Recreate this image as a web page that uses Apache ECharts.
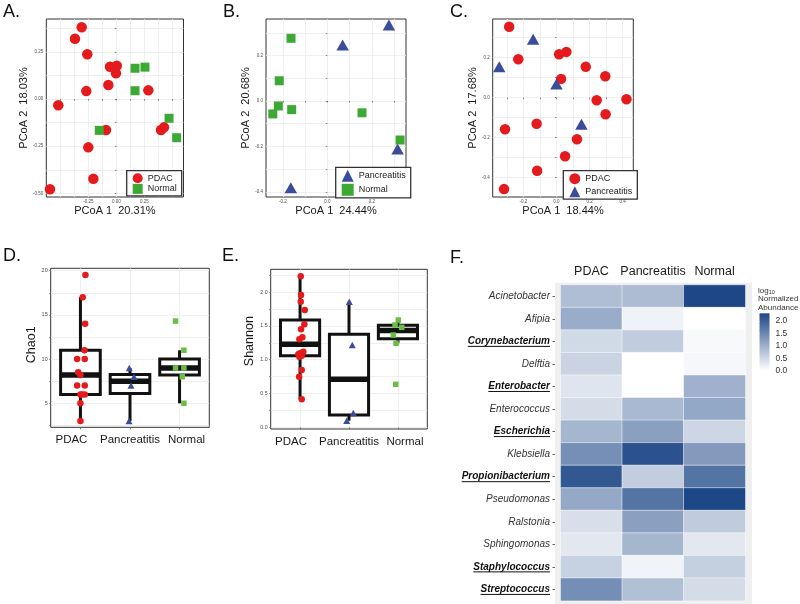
<!DOCTYPE html>
<html><head><meta charset="utf-8">
<script src="https://cdn.jsdelivr.net/npm/echarts@6/dist/echarts.min.js"></script>
<style>html,body{margin:0;padding:0;background:#fff}#c{width:800px;height:604px}</style>
</head><body><div id="c"></div>
<script>
// ---------------- DATA ----------------
// Panel A: PCoA, PDAC vs Normal  [PCoA1, PCoA2]
const pcoaA_PDAC = [[-0.309,0.380],[-0.369,0.319],[-0.259,0.237],[-0.056,0.171],[0.004,0.176],[-0.003,0.136],[-0.071,0.074],[-0.268,0.042],[0.286,0.046],[-0.518,-0.033],[-0.092,-0.164],[0.399,-0.164],[0.426,-0.150],[-0.250,-0.256],[-0.205,-0.422],[-0.592,-0.478]];
const pcoaA_Normal = [[0.167,0.163],[0.256,0.169],[0.167,0.044],[0.471,-0.102],[0.539,-0.205],[-0.152,-0.166]];
const pcoaA_xTicks = [-0.25,0,0.25];
const pcoaA_yTicks = [-0.5,-0.25,0,0.25];
const pcoaA_xGrid = [-0.5,-0.375,-0.25,-0.125,0,0.125,0.25,0.375,0.5];
const pcoaA_yGrid = [-0.5,-0.375,-0.25,-0.125,0,0.125,0.25,0.375];
// Panel B: Pancreatitis vs Normal
const pcoaB_Panc = [[0.277,0.335],[0.069,0.247],[0.316,-0.211],[-0.164,-0.382]];
const pcoaB_Normal = [[-0.163,0.276],[-0.216,0.089],[-0.220,-0.022],[-0.245,-0.057],[-0.160,-0.038],[0.156,-0.052],[0.327,-0.172]];
const pcoaB_xTicks = [-0.2,0,0.2];
const pcoaB_yTicks = [-0.4,-0.2,0,0.2];
const pcoaB_xGrid = [-0.2,-0.1,0,0.1,0.2,0.3];
const pcoaB_yGrid = [-0.4,-0.3,-0.2,-0.1,0,0.1,0.2,0.3];
// Panel C: PDAC vs Pancreatitis
const pcoaC_PDAC = [[-0.286,0.355],[-0.231,0.192],[0.016,0.217],[0.060,0.229],[0.177,0.155],[0.295,0.107],[0.028,0.094],[0.243,-0.013],[0.423,-0.008],[0.297,-0.083],[-0.120,-0.130],[-0.311,-0.158],[0.124,-0.208],[0.052,-0.293],[-0.117,-0.365],[-0.317,-0.457]];
const pcoaC_Panc = [[-0.346,0.155],[-0.141,0.292],[0.000,0.069],[0.151,-0.133]];
const pcoaC_xTicks = [-0.2,0,0.2,0.4];
const pcoaC_yTicks = [-0.4,-0.2,0,0.2];
const pcoaC_xGrid = [-0.3,-0.2,-0.1,0,0.1,0.2,0.3,0.4];
const pcoaC_yGrid = [-0.4,-0.3,-0.2,-0.1,0,0.1,0.2,0.3];
// Panels D/E groups
const groups = ['PDAC','Pancreatitis','Normal'];
const groupTicks = [1,2,3];
// Panel D: Chao1  [jittered group position, value]
const chao1_PDAC = [[1.101,19.5],[1.046,17],[1.095,14],[1.081,11],[0.933,10],[1.087,10],[0.954,8.5],[1.0,8.2],[0.933,7],[1.087,7],[1.0,6],[1.087,6],[1.03,6],[1.0,5],[1.0,3]];
const chao1_Panc = [[1.986,9],[2.081,8],[2.02,7],[1.98,3]];
const chao1_Normal = [[3.087,11],[2.919,9],[3.087,9],[3.054,8],[3.087,5],[2.919,14.3]];
// box stats: [group, lower whisker, Q1, median, Q3, upper whisker]
const chao1_Box = [[1,3,6,8.2,11,17],[2,3,6.1,7.5,8.25,9],[3,5,8.2,9,10,11]];
const chao1_yTicks = [5,10,15,20];
const chao1_yGrid = [2.5,5,7.5,10,12.5,15,17.5,20];
// Panel E: Shannon
const shannon_PDAC = [[1.014,2.233],[1.02,1.957],[1.014,1.858],[1.096,1.735],[1.088,1.523],[1.02,1.449],[1.047,1.331],[0.986,1.302],[1.067,1.118],[1.0,1.095],[0.965,1.080],[1.034,1.059],[0.986,1.045],[1.034,0.848],[0.98,0.749],[1.034,0.414]];
const shannon_Panc = [[2.006,1.858],[2.067,1.217],[2.088,0.211],[1.953,0.098]];
const shannon_Normal = [[3.008,1.587],[2.941,1.513],[3.078,1.479],[2.906,1.365],[2.961,1.243],[2.955,0.636]];
const shannon_Box = [[1,0.414,1.06,1.228,1.587,2.233],[2,0.098,0.183,0.71,1.377,1.858],[3,1.243,1.31,1.43,1.51,1.587]];
const shannon_yTicks = [0,0.5,1,1.5,2];
const shannon_yGrid = [0,0.25,0.5,0.75,1,1.25,1.5,1.75,2,2.25];
// Panel F: heatmap log10 normalized abundance
const genera = ['Acinetobacter','Afipia','Corynebacterium','Delftia','Enterobacter','Enterococcus','Escherichia','Klebsiella','Propionibacterium','Pseudomonas','Ralstonia','Sphingomonas','Staphylococcus','Streptococcus'];
const boldGenera = ['Corynebacterium','Enterobacter','Escherichia','Propionibacterium','Staphylococcus','Streptococcus'];
const abundPDAC   = [0.82,1.04,0.48,0.55,0.33,0.44,0.92,1.41,2.10,1.08,0.40,0.29,0.58,1.42];
const abundPanc   = [0.84,0.16,0.63,0.00,0.00,0.88,1.19,2.17,0.62,1.75,1.19,0.92,0.15,0.79];
const abundNormal = [2.31,0.00,0.08,0.10,0.98,1.10,0.51,1.27,1.75,2.31,0.64,0.29,0.60,0.44];
const colorbarTicks = [0,0.5,1,1.5,2];

// ---------------- CHART ----------------
const FONT = '"Liberation Sans", Arial, Helvetica, sans-serif';
const RED = '#E41A1C', BLUE = '#3B4C9B', GREEN = '#3DA935', GREEN2 = '#6ABD45';
const LOW = '#FFFFFF', HIGH = '#1D4787';
const chart = echarts.init(document.getElementById('c'), null, {renderer:'canvas', width:800, height:604});

function fmt(d){ return v => (Math.abs(v) < 1e-9 ? 0 : v).toFixed(d); }
const splitL = {show:true, lineStyle:{color:'#EBEBEB', width:0.8}};

function valAxis(grid, min, max, grid_vals, ticks, d, name, gap, fs, lblFs, lblMargin, namePad){
  return {gridIndex:grid, type:'value', min, max,
    name, nameLocation:'middle', nameGap:gap,
    nameTextStyle:{fontSize:fs, color:'#1a1a1a', fontFamily:FONT, padding:namePad || 0},
    axisLine:{show:false},
    axisTick:{show:true, length:1.5, customValues:grid_vals, lineStyle:{color:'#333', width:0.6}},
    axisLabel:{fontSize:lblFs, color:'#4D4D4D', margin:lblMargin, customValues:ticks, formatter:fmt(d), fontFamily:FONT},
    splitLine:splitL};
}
function groupAxis(grid){
  return {gridIndex:grid, type:'value', min:0.4, max:3.6,
    axisLine:{show:false},
    axisTick:{show:true, length:2, customValues:groupTicks, lineStyle:{color:'#333', width:0.6}},
    axisLabel:{margin:7, fontFamily:FONT, customValues:groupTicks,
      formatter: v => { const r = Math.round(v); return '{g'+(r-1)+'|'+groups[r-1]+'}'; },
      rich:{g0:{fontSize:11.5, color:'#1a1a1a', fontFamily:FONT, padding:[0,18,0,0]},
            g1:{fontSize:11.5, color:'#1a1a1a', fontFamily:FONT},
            g2:{fontSize:11.5, color:'#1a1a1a', fontFamily:FONT, padding:[0,0,0,14]}}},
    splitLine:splitL};
}
function boxRender(params, api){
  const x = api.value(0), lo = api.value(1), q1 = api.value(2), med = api.value(3), q3 = api.value(4), hi = api.value(5);
  const h = 0.4;
  const tl = api.coord([x-h, q3]), br = api.coord([x+h, q1]);
  const ml = api.coord([x-h, med]), mr = api.coord([x+h, med]);
  const pHi = api.coord([x, hi]), pQ3 = api.coord([x, q3]), pQ1 = api.coord([x, q1]), pLo = api.coord([x, lo]);
  const ls = {stroke:'#111', lineWidth:3};
  return {type:'group', children:[
    {type:'line', shape:{x1:pHi[0], y1:pHi[1], x2:pQ3[0], y2:pQ3[1]}, style:ls},
    {type:'line', shape:{x1:pQ1[0], y1:pQ1[1], x2:pLo[0], y2:pLo[1]}, style:ls},
    {type:'rect', shape:{x:tl[0], y:tl[1], width:br[0]-tl[0], height:br[1]-tl[1]}, style:{fill:'#fff', stroke:'#111', lineWidth:3}},
    {type:'line', shape:{x1:ml[0], y1:ml[1], x2:mr[0], y2:mr[1]}, style:{stroke:'#111', lineWidth:5.5}}
  ]};
}
function sc(name, xi, data, symbol, size, color){
  return {type:'scatter', name, xAxisIndex:xi, yAxisIndex:xi, data, symbol, symbolSize:size,
    itemStyle:{color, opacity:1}, z:3, silent:true, clip:false};
}
function mkLegend(names, left, top, iw, ih, gap){
  return {data:names, left, top, orient:'vertical', itemWidth:iw, itemHeight:ih, itemGap:gap,
    selectedMode:false, padding:[2.5,5,2,6], borderColor:'#333', borderWidth:1.3, backgroundColor:'#fff',
    textStyle:{fontSize:9, color:'#1a1a1a', fontFamily:FONT}};
}

const heatData = [];
genera.forEach((g, r) => { heatData.push([0, r, abundPDAC[r]], [1, r, abundPanc[r]], [2, r, abundNormal[r]]); });

const gridBase = {show:true, borderColor:'#333', borderWidth:1, backgroundColor:'#fff'};
const option = {
  animation:false,
  textStyle:{fontFamily:FONT},
  grid:[
    Object.assign({left:46.3, top:19, width:137.2, height:178}, gridBase),
    Object.assign({left:266, top:19, width:140, height:178}, gridBase),
    Object.assign({left:492.7, top:19, width:140.6, height:178}, gridBase),
    Object.assign({left:50.7, top:268.3, width:158.6, height:159}, gridBase),
    Object.assign({left:270.7, top:269.3, width:156.6, height:159.7}, gridBase),
    {left:560.7, top:285, width:184.6, height:315.7, show:false},
    {left:759.5, top:313.3, width:10, height:57.4, show:true, borderWidth:0,
     backgroundColor:{type:'linear', x:0, y:0, x2:0, y2:1, colorStops:[{offset:0, color:HIGH},{offset:1, color:LOW}]}}
  ],
  xAxis:[
    valAxis(0, -0.625, 0.6, pcoaA_xGrid, pcoaA_xTicks, 2, 'PCoA 1  20.31%', 5.5, 11, 4.5, 2.5),
    valAxis(1, -0.2755, 0.3537, pcoaB_xGrid, pcoaB_xTicks, 1, 'PCoA 1  24.44%', 5.5, 11, 4.5, 2.5),
    valAxis(2, -0.3855, 0.4645, pcoaC_xGrid, pcoaC_xTicks, 1, 'PCoA 1  18.44%', 5.5, 11, 4.5, 2.5),
    groupAxis(3),
    groupAxis(4),
    {gridIndex:5, type:'category', data:groups, position:'top', offset:2.3,
     axisLine:{show:false}, axisTick:{show:false},
     axisLabel:{interval:0, fontSize:12.5, color:'#1a1a1a', margin:5, fontFamily:FONT}, splitLine:{show:false}},
    {gridIndex:6, type:'value', show:false, min:0, max:1}
  ],
  yAxis:[
    valAxis(0, -0.519, 0.424, pcoaA_yGrid, pcoaA_yTicks, 2, 'PCoA 2  18.03%', 12.8, 11, 4.5, 3),
    valAxis(1, -0.4229, 0.361, pcoaB_yGrid, pcoaB_yTicks, 1, 'PCoA 2  20.68%', 10.5, 11, 4.5, 3),
    valAxis(2, -0.4965, 0.3935, pcoaC_yGrid, pcoaC_yTicks, 1, 'PCoA 2  17.68%', 12, 11, 4.5, 3),
    valAxis(3, 2.285, 20.27, chao1_yGrid, chao1_yTicks, 0, 'Chao1', 13, 12.5, 5.5, 3, [0,0,0,6]),
    valAxis(4, -0.025, 2.337, shannon_yGrid, shannon_yTicks, 1, 'Shannon', 12, 12.5, 5.3, 3, [0,0,0,16]),
    {gridIndex:5, type:'category', data:genera, inverse:true, offset:5.7,
     axisLine:{show:false},
     axisTick:{show:true, alignWithLabel:true, length:2.5, lineStyle:{color:'#333', width:0.8}},
     axisLabel:{interval:0, margin:5, formatter: v => boldGenera.includes(v) ? '{b|'+v+'}' : '{i|'+v+'}',
       rich:{i:{fontStyle:'italic', fontSize:10, color:'#333', fontFamily:FONT},
             b:{fontStyle:'italic', fontWeight:'bold', fontSize:10, color:'#111', fontFamily:FONT}}},
     splitLine:{show:false}},
    {gridIndex:6, type:'value', min:0, max:2.31, position:'right',
     axisLine:{show:false},
     axisTick:{show:true, inside:true, length:2, customValues:colorbarTicks, lineStyle:{color:'#fff', width:0.8}},
     axisLabel:{fontSize:8.5, color:'#333', margin:6, customValues:colorbarTicks, formatter:fmt(1), fontFamily:FONT},
     splitLine:{show:false}}
  ],
  legend:[
    mkLegend(['PDAC','Normal'], 126.7, 170.7, 10, 10, 0.7),
    mkLegend(['Pancreatitis','Normal'], 335.7, 167.3, 12, 12, 2),
    mkLegend(['PDAC','Pancreatitis'], 563.3, 170.7, 11, 11, 2)
  ],
  visualMap:[{type:'continuous', show:false, min:0, max:2.31, dimension:2, seriesIndex:14,
    inRange:{color:[LOW, HIGH]}}],
  series:[
    sc('PDAC', 0, pcoaA_PDAC, 'circle', 10.5, RED),          //0
    sc('Normal', 0, pcoaA_Normal, 'rect', 9, GREEN),         //1
    sc('Pancreatitis', 1, pcoaB_Panc, 'triangle', [12.5,11], BLUE), //2
    sc('Normal', 1, pcoaB_Normal, 'rect', 9, GREEN),         //3
    sc('PDAC', 2, pcoaC_PDAC, 'circle', 10.5, RED),          //4
    sc('Pancreatitis', 2, pcoaC_Panc, 'triangle', [12.5,11], BLUE), //5
    {type:'custom', name:'Chao1 box', xAxisIndex:3, yAxisIndex:3, data:chao1_Box, renderItem:boxRender, z:2, silent:true, encode:{x:0, y:[1,2,3,4,5]}}, //6
    sc('PDAC', 3, chao1_PDAC, 'circle', 6.5, RED),           //7
    sc('Pancreatitis', 3, chao1_Panc, 'triangle', [7,6.5], BLUE), //8
    sc('Normal', 3, chao1_Normal, 'rect', 5.5, GREEN2),      //9
    {type:'custom', name:'Shannon box', xAxisIndex:4, yAxisIndex:4, data:shannon_Box, renderItem:boxRender, z:2, silent:true, encode:{x:0, y:[1,2,3,4,5]}}, //10
    sc('PDAC', 4, shannon_PDAC, 'circle', 6.5, RED),         //11
    sc('Pancreatitis', 4, shannon_Panc, 'triangle', [7,6.5], BLUE), //12
    sc('Normal', 4, shannon_Normal, 'rect', 5.5, GREEN2),    //13
    {type:'heatmap', name:'Abundance', xAxisIndex:5, yAxisIndex:5, data:heatData,
     itemStyle:{borderColor:'#fff', borderWidth:0.5}, emphasis:{disabled:true}, silent:true}, //14
    {type:'scatter', name:'_cb', xAxisIndex:6, yAxisIndex:6, data:[], silent:true} //15
  ],
  graphic:[
    {id:'bgF', type:'rect', z:0, shape:{x:555, y:282.7, width:197, height:322}, style:{fill:'#EFEFEF'}},
    {id:'lA', type:'text', left:3, top:3, style:{text:'A.', fontSize:18, fill:'#111', fontFamily:FONT}},
    {id:'lB', type:'text', left:223, top:3, style:{text:'B.', fontSize:18, fill:'#111', fontFamily:FONT}},
    {id:'lC', type:'text', left:450, top:3, style:{text:'C.', fontSize:18, fill:'#111', fontFamily:FONT}},
    {id:'lD', type:'text', left:3, top:247, style:{text:'D.', fontSize:18, fill:'#111', fontFamily:FONT}},
    {id:'lE', type:'text', left:222, top:247, style:{text:'E.', fontSize:18, fill:'#111', fontFamily:FONT}},
    {id:'lF', type:'text', left:450, top:249, style:{text:'F.', fontSize:18, fill:'#111', fontFamily:FONT}},
    {id:'cbT', type:'text', left:758, top:285.5, style:{
      text:'{a|log}{s|10}\n{a|Normalized}\n{a|Abundance}',
      rich:{a:{fontSize:8, lineHeight:8.6, fill:'#333', fontFamily:FONT},
            s:{fontSize:5.5, lineHeight:8.6, fill:'#333', fontFamily:FONT, padding:[4,0,0,0]}}}}
  ]
};
chart.setOption(option);

// underline bold genus labels (positions taken from the heatmap axis)
const ctx = document.createElement('canvas').getContext('2d');
ctx.font = 'italic bold 10px "Liberation Sans"';
const heatLeft = 560.7, heatYOffset = 5.7, heatLabelMargin = 5;
const labelRight = heatLeft - heatYOffset - heatLabelMargin;
const ul = boldGenera.map((g, k) => {
  const y = chart.convertToPixel({xAxisIndex:5, yAxisIndex:5}, [0, genera.indexOf(g)])[1];
  const w = ctx.measureText(g).width;
  return {id:'ul'+k, type:'line', shape:{x1:labelRight - w, y1:y + 5, x2:labelRight, y2:y + 5}, style:{stroke:'#111', lineWidth:1}};
});
chart.setOption({graphic: ul});
</script></body></html>
